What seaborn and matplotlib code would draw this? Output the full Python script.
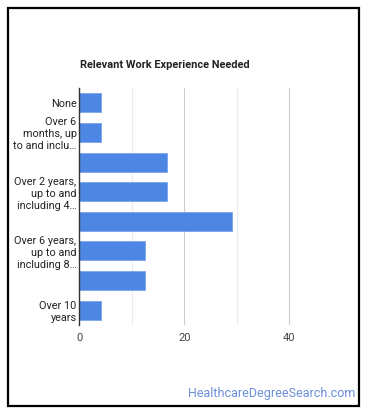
import matplotlib
matplotlib.use("Agg")
import matplotlib.pyplot as plt
import seaborn as sns
import pandas as pd
from matplotlib.patches import Rectangle

categories = [
    "None",
    "Over 6 months, up to and including 1 year",
    "Over 1 year, up to and including 2 years",
    "Over 2 years, up to and including 4 years",
    "Over 4 years, up to and including 6 years",
    "Over 6 years, up to and including 8 years",
    "Over 8 years, up to and including 10 years",
    "Over 10 years",
]
values = [4.17, 4.17, 16.67, 16.67, 29.17, 12.5, 12.5, 4.17]
tick_labels = [
    "None",
    "Over 6\nmonths, up\nto and inclu…",
    "",
    "Over 2 years,\nup to and\nincluding 4…",
    "",
    "Over 6 years,\nup to and\nincluding 8…",
    "",
    "Over 10\nyears",
]
x_ticks = [0, 20, 40]
minor_ticks = [10, 30]

sns.set_theme(style="white")
plt.rcParams["font.family"] = ["Roboto", "DejaVu Sans"]

df = pd.DataFrame({"cat": categories, "val": values})

fig = plt.figure(figsize=(3.7, 4.17), dpi=100)
ax = fig.add_axes([79.3 / 370, 1 - 325 / 417, (341.8 - 79.3) / 370, (325 - 88) / 417])

sns.barplot(data=df, x="val", y="cat", orient="h", color="#4e86e4",
            width=0.64, ax=ax, saturation=1, edgecolor="#7aa3ec", linewidth=0.6)

ax.set_xlim(0, 50)
ax.set_ylim(7.5, -0.5)
ax.set_xticks(x_ticks)
ax.set_xticks(minor_ticks, minor=True)
ax.set_xticklabels([str(t) for t in x_ticks], fontsize=8, color="#444444")
ax.set_yticks(range(len(categories)))
ax.set_yticklabels(tick_labels, fontsize=7.8, color="#222222", linespacing=1.25)
ax.tick_params(axis="both", which="both", length=0, pad=2)
ax.tick_params(axis="x", pad=6)
ax.grid(axis="x", which="major", color="#cccccc", linewidth=0.8)
ax.grid(axis="x", which="minor", color="#ebebeb", linewidth=0.8)
ax.set_axisbelow(True)
ax.set_xlabel("")
ax.set_ylabel("")
for s in ["top", "right", "bottom"]:
    ax.spines[s].set_visible(False)
ax.spines["left"].set_color("#333333")
ax.spines["left"].set_linewidth(1.0)

fig.text(80 / 370, 1 - 65 / 417, "Relevant Work Experience Needed",
         fontsize=7.9, fontweight="bold", color="#222222", ha="left", va="center")
fig.text(355 / 370, 1 - 394 / 417, "HealthcareDegreeSearch.com",
         fontsize=9.0, color="#6a8ed8", ha="right", va="center")

fig.patches.append(Rectangle((8 / 370, 1 - 406 / 417), (359 - 8) / 370, (406 - 8) / 417,
                             transform=fig.transFigure, fill=False,
                             edgecolor="black", linewidth=1.6))

fig.savefig("out.png", dpi=100)
